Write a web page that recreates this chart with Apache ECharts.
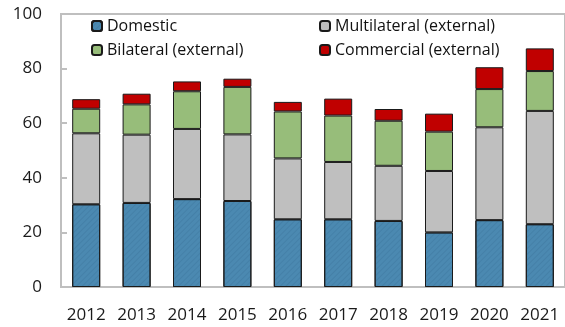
<!DOCTYPE html>
<html>
<head>
<meta charset="utf-8">
<script src="https://cdn.jsdelivr.net/npm/echarts@6/dist/echarts.min.js"></script>
<style>
  html, body { margin: 0; padding: 0; background: #fff; }
  #chart { width: 565px; height: 327px; }
</style>
</head>
<body>
<div id="chart"></div>
<script>
// Debt financing by source, 2012-2021
const years = ['2012', '2013', '2014', '2015', '2016', '2017', '2018', '2019', '2020', '2021'];
const domestic = [30.3, 30.8, 32.2, 31.5, 24.8, 24.8, 24.2, 20.0, 24.5, 23.0];
const multilateral = [26.0, 25.0, 25.7, 24.4, 22.3, 21.0, 20.2, 22.5, 34.0, 41.5];
const bilateral = [9.0, 11.1, 13.8, 17.4, 17.2, 17.0, 16.5, 14.4, 14.0, 14.6];
const commercial = [3.5, 3.9, 3.6, 3.0, 3.5, 6.2, 4.3, 6.6, 8.0, 8.3];
const yTicks = [0, 20, 40, 60, 80, 100];

const FONT = '"Open Sans", "Noto Sans", sans-serif';
const chart = echarts.init(document.getElementById('chart'), null, { renderer: 'canvas' });

function stackSeries(name, data, color, extra) {
  return Object.assign({
    name: name,
    type: 'bar',
    stack: 'total',
    barWidth: 28,
    data: data,
    itemStyle: { color: color, borderColor: '#1a1a1a', borderWidth: 1 },
    emphasis: { disabled: true }
  }, extra || {});
}

const legendText = { fontFamily: FONT, fontSize: 16, color: '#111' };

chart.setOption({
  animation: false,
  textStyle: { fontFamily: FONT },
  grid: {
    left: 61, right: 0, top: 14, bottom: 40,
    show: true, borderColor: '#bfbfbf', borderWidth: 2
  },
  legend: [
    {
      data: ['Domestic', 'Bilateral (external)'],
      orient: 'vertical', left: 86, top: 13,
      itemWidth: 10, itemHeight: 10, itemGap: 8,
      textStyle: legendText
    },
    {
      data: ['Multilateral (external)', 'Commercial (external)'],
      orient: 'vertical', left: 314, top: 13,
      itemWidth: 10, itemHeight: 10, itemGap: 8,
      textStyle: legendText
    }
  ],
  xAxis: {
    type: 'category',
    data: years,
    axisLine: { lineStyle: { color: '#bfbfbf', width: 2 } },
    axisTick: { inside: true, length: 5, alignWithLabel: false, lineStyle: { color: '#bfbfbf', width: 2 } },
    axisLabel: { interval: 0, hideOverlap: false, fontSize: 17, color: '#1a1a1a', margin: 20, fontFamily: FONT }
  },
  yAxis: {
    type: 'value',
    min: yTicks[0],
    max: yTicks[yTicks.length - 1],
    interval: 20,
    axisLine: { show: true, lineStyle: { color: '#bfbfbf', width: 2 } },
    axisTick: { show: true, inside: true, length: 6, lineStyle: { color: '#bfbfbf', width: 2 } },
    splitLine: { show: false },
    axisLabel: { fontSize: 17, color: '#1a1a1a', margin: 19, fontFamily: FONT }
  },
  series: [
    stackSeries('Domestic', domestic, '#4b89b1', {
      itemStyle: {
        color: '#4b89b1', borderColor: '#1a1a1a', borderWidth: 1,
        decal: {
          symbol: 'rect', symbolSize: 1, rotation: -Math.PI / 4,
          dashArrayX: [1, 0], dashArrayY: [1, 3],
          color: 'rgba(40, 90, 130, 0.18)'
        }
      }
    }),
    stackSeries('Multilateral (external)', multilateral, '#bfbfbf'),
    stackSeries('Bilateral (external)', bilateral, '#97bd7a'),
    stackSeries('Commercial (external)', commercial, '#c00000')
  ]
});
</script>
</body>
</html>
